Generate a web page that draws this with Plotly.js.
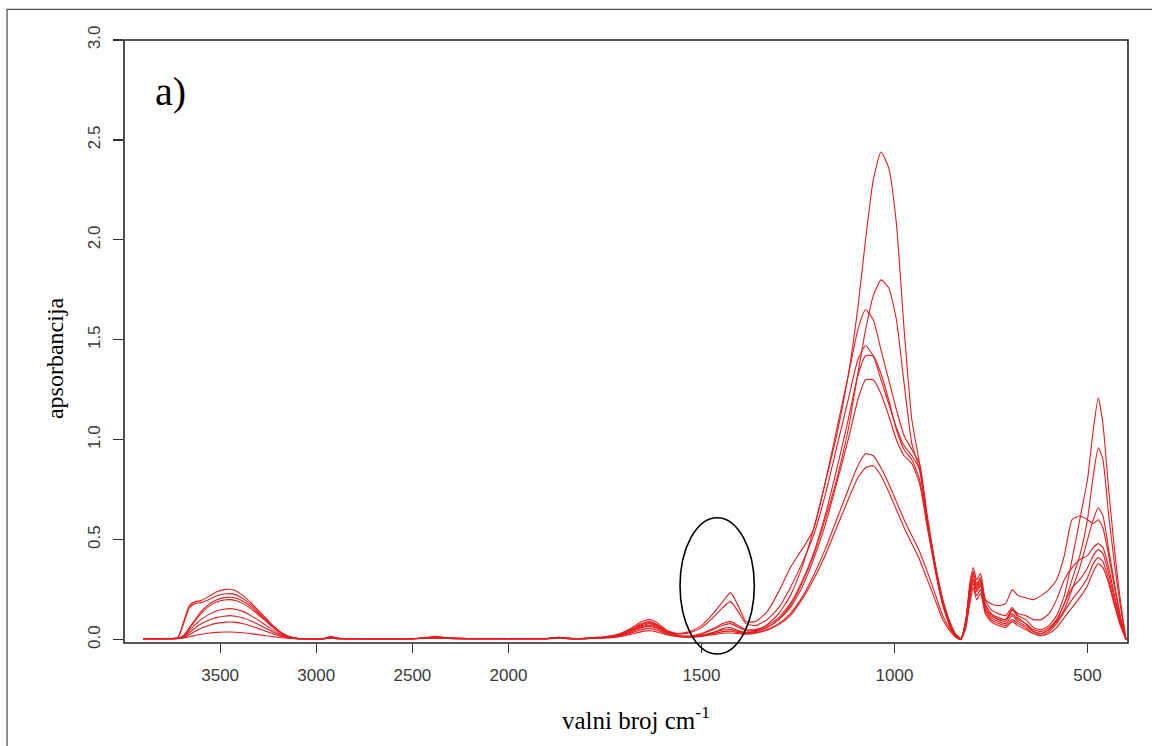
<!DOCTYPE html>
<html>
<head>
<meta charset="utf-8">
<script src="https://cdn.plot.ly/plotly-3.0.1.min.js"></script>
<style>html,body{margin:0;padding:0;background:#fff;}#chart{width:1152px;height:746px;}</style>
</head>
<body>
<div id="chart"></div>
<script>
// wavenumbers (cm-1)
const wavenumbers = [3900,3780,3720,3690,3660,3630,3600,3560,3520,3480,3450,3420,3380,3340,3300,3260,3220,3180,3140,3100,3050,2960,2925,2890,2800,2500,2420,2380,2340,2280,2150,2000,
1900,1870,1840,1800,1785,1760,1720,1680,1655,1635,1615,1590,1560,1530,1500,1470,1445,1425,1405,1385,1360,1330,1300,1270,1240,1210,1180,1150,1120,1095,1075,1055,1035,1015,995,975,955,935,915,895,875,855,840,828,815,805,796,787,777,765,750,730,712,695,680,660,640,620,600,580,560,540,520,500,485,472,460,445,430,415,400];

const spectrum1 = [0.005,0.005,0.01,0.09,0.17,0.19,0.195,0.215,0.238,0.25,0.252,0.245,0.22,0.185,0.145,0.105,0.065,0.035,0.015,0.006,0.004,0.006,0.016,0.008,0.004,0.005,0.012,0.016,0.012,0.008,0.004,0.005,
0.005,0.012,0.006,0.006,0.01,0.012,0.025,0.06,0.09,0.1,0.085,0.045,0.02,0.015,0.022,0.035,0.048,0.05,0.04,0.035,0.045,0.075,0.13,0.22,0.36,0.55,0.78,1.02,1.32,1.66,2.0,2.3,2.44,2.36,2.08,1.55,1.1,0.88,0.6,0.36,0.18,0.07,0.02,0.005,0.1,0.28,0.36,0.3,0.33,0.2,0.15,0.13,0.12,0.16,0.12,0.1,0.06,0.05,0.07,0.12,0.22,0.4,0.6,0.8,1.05,1.21,1.08,0.75,0.45,0.2,0.0];
const spectrum2 = [0.005,0.005,0.01,0.08,0.16,0.18,0.185,0.2,0.218,0.228,0.23,0.225,0.205,0.175,0.138,0.1,0.062,0.033,0.014,0.006,0.004,0.005,0.012,0.007,0.004,0.005,0.01,0.013,0.01,0.007,0.004,0.005,
0.005,0.01,0.005,0.006,0.009,0.01,0.02,0.05,0.075,0.085,0.07,0.04,0.018,0.014,0.02,0.035,0.055,0.06,0.045,0.035,0.04,0.06,0.1,0.17,0.28,0.42,0.6,0.8,1.05,1.33,1.55,1.72,1.8,1.76,1.6,1.28,0.98,0.85,0.6,0.38,0.2,0.08,0.025,0.005,0.1,0.26,0.34,0.28,0.31,0.18,0.13,0.11,0.1,0.13,0.1,0.08,0.05,0.04,0.06,0.1,0.18,0.3,0.42,0.6,0.82,0.96,0.9,0.62,0.38,0.17,0.0];
const spectrum3 = [0.005,0.005,0.006,0.02,0.06,0.1,0.14,0.175,0.198,0.21,0.212,0.208,0.192,0.165,0.13,0.095,0.06,0.032,0.014,0.006,0.004,0.005,0.01,0.006,0.004,0.005,0.009,0.012,0.009,0.006,0.004,0.005,
0.005,0.012,0.006,0.006,0.01,0.012,0.022,0.055,0.08,0.09,0.075,0.045,0.03,0.04,0.07,0.13,0.19,0.235,0.17,0.09,0.09,0.14,0.24,0.36,0.45,0.55,0.78,1.05,1.32,1.55,1.65,1.6,1.45,1.3,1.15,1.02,0.95,0.88,0.62,0.38,0.18,0.06,0.015,0.0,0.08,0.22,0.3,0.25,0.28,0.17,0.13,0.1,0.1,0.15,0.11,0.08,0.04,0.03,0.05,0.09,0.15,0.25,0.36,0.5,0.6,0.66,0.62,0.45,0.28,0.12,0.0];
const spectrum4 = [0.005,0.005,0.006,0.018,0.055,0.095,0.13,0.165,0.188,0.198,0.2,0.196,0.18,0.155,0.123,0.09,0.057,0.03,0.013,0.006,0.004,0.005,0.009,0.006,0.004,0.005,0.009,0.011,0.009,0.006,0.004,0.005,
0.005,0.01,0.005,0.006,0.009,0.01,0.02,0.05,0.07,0.08,0.065,0.04,0.028,0.035,0.06,0.11,0.16,0.19,0.14,0.08,0.07,0.1,0.16,0.26,0.38,0.52,0.72,0.96,1.2,1.4,1.47,1.42,1.3,1.18,1.06,0.97,0.92,0.85,0.6,0.38,0.2,0.08,0.02,0.005,0.1,0.25,0.33,0.27,0.3,0.2,0.18,0.17,0.18,0.25,0.22,0.21,0.2,0.22,0.25,0.3,0.42,0.6,0.62,0.6,0.58,0.6,0.56,0.42,0.26,0.11,0.0];
const spectrum5 = [0.005,0.005,0.006,0.015,0.045,0.075,0.1,0.125,0.143,0.152,0.155,0.152,0.14,0.12,0.096,0.07,0.045,0.024,0.011,0.005,0.004,0.005,0.008,0.005,0.004,0.005,0.008,0.01,0.008,0.006,0.004,0.005,
0.005,0.008,0.005,0.005,0.008,0.01,0.018,0.045,0.065,0.072,0.06,0.035,0.02,0.018,0.03,0.055,0.08,0.09,0.07,0.05,0.05,0.07,0.11,0.18,0.29,0.43,0.62,0.85,1.1,1.32,1.42,1.42,1.33,1.2,1.05,0.95,0.9,0.8,0.58,0.36,0.18,0.07,0.02,0.003,0.09,0.24,0.32,0.26,0.29,0.16,0.12,0.1,0.09,0.15,0.13,0.12,0.1,0.1,0.13,0.2,0.3,0.36,0.4,0.42,0.46,0.48,0.46,0.36,0.22,0.1,0.0];
const spectrum6 = [0.005,0.005,0.006,0.012,0.035,0.058,0.078,0.097,0.11,0.117,0.12,0.117,0.108,0.093,0.075,0.055,0.036,0.02,0.01,0.005,0.004,0.005,0.007,0.005,0.004,0.005,0.007,0.009,0.007,0.005,0.004,0.005,
0.005,0.008,0.005,0.005,0.007,0.009,0.016,0.04,0.06,0.066,0.055,0.032,0.018,0.016,0.027,0.05,0.072,0.08,0.062,0.045,0.045,0.062,0.1,0.16,0.26,0.4,0.57,0.78,1.0,1.2,1.3,1.3,1.23,1.12,1.0,0.92,0.88,0.78,0.56,0.35,0.17,0.06,0.015,0.002,0.08,0.22,0.3,0.24,0.27,0.15,0.11,0.09,0.08,0.12,0.09,0.07,0.04,0.03,0.05,0.1,0.18,0.26,0.3,0.36,0.42,0.45,0.43,0.33,0.2,0.09,0.0];
const spectrum7 = [0.005,0.005,0.006,0.01,0.025,0.042,0.057,0.071,0.081,0.086,0.088,0.086,0.079,0.068,0.055,0.041,0.027,0.016,0.008,0.005,0.004,0.005,0.006,0.005,0.004,0.005,0.006,0.008,0.006,0.005,0.004,0.005,
0.005,0.007,0.005,0.005,0.006,0.008,0.014,0.035,0.05,0.056,0.047,0.028,0.016,0.013,0.018,0.03,0.04,0.042,0.035,0.03,0.035,0.05,0.08,0.13,0.21,0.32,0.45,0.6,0.75,0.87,0.93,0.92,0.86,0.78,0.69,0.6,0.52,0.44,0.34,0.23,0.12,0.05,0.012,0.002,0.07,0.2,0.28,0.22,0.25,0.14,0.1,0.08,0.07,0.1,0.08,0.06,0.03,0.02,0.04,0.08,0.14,0.2,0.25,0.31,0.38,0.41,0.39,0.3,0.18,0.08,0.0];
const spectrum8 = [0.005,0.005,0.006,0.008,0.014,0.021,0.027,0.032,0.036,0.038,0.038,0.037,0.034,0.03,0.025,0.019,0.014,0.009,0.006,0.005,0.004,0.005,0.006,0.005,0.004,0.005,0.006,0.007,0.006,0.005,0.004,0.005,
0.005,0.006,0.005,0.005,0.006,0.007,0.012,0.028,0.04,0.045,0.038,0.024,0.014,0.012,0.016,0.025,0.032,0.033,0.03,0.027,0.032,0.047,0.075,0.12,0.2,0.3,0.42,0.56,0.7,0.81,0.86,0.87,0.82,0.74,0.65,0.56,0.48,0.4,0.3,0.2,0.1,0.04,0.01,0.0,0.06,0.18,0.26,0.2,0.23,0.13,0.09,0.07,0.06,0.09,0.07,0.05,0.03,0.02,0.03,0.06,0.11,0.16,0.21,0.27,0.34,0.38,0.36,0.28,0.17,0.07,0.0];

const series = [spectrum1, spectrum2, spectrum3, spectrum4, spectrum5, spectrum6, spectrum7, spectrum8];
const highTicks = [3500, 3000, 2500, 2000];
const lowTicks = [1500, 1000, 500];
const yTicks = [0.0, 0.5, 1.0, 1.5, 2.0, 2.5, 3.0];
const yTickLabels = ["0.0", "0.5", "1.0", "1.5", "2.0", "2.5", "3.0"];

const lineStyle = {color: 'rgb(232,28,28)', width: 1.1, shape: 'spline', smoothing: 0.5};
const traces = [];
series.forEach(function (s) {
  const hx = [], hy = [], lx = [], ly = [];
  for (let i = 0; i < wavenumbers.length; i++) {
    if (wavenumbers[i] >= 2000) { hx.push(wavenumbers[i]); hy.push(s[i]); }
    if (wavenumbers[i] <= 2000) { lx.push(wavenumbers[i]); ly.push(s[i]); }
  }
  traces.push({x: hx, y: hy, xaxis: 'x', yaxis: 'y', type: 'scatter', mode: 'lines', line: lineStyle, showlegend: false, hoverinfo: 'skip'});
  traces.push({x: lx, y: ly, xaxis: 'x2', yaxis: 'y', type: 'scatter', mode: 'lines', line: lineStyle, showlegend: false, hoverinfo: 'skip'});
});

const tickFont = {family: 'Liberation Sans, Arial, sans-serif', size: 17, color: '#3a3a3a'};
const split = 0.383;
const layout = {
  width: 1152, height: 746,
  margin: {l: 124, r: 24, t: 40, b: 103},
  paper_bgcolor: '#fff', plot_bgcolor: '#fff',
  showlegend: false,
  xaxis: {domain: [0, split], range: [4000, 2000], anchor: 'y', tickmode: 'array', tickvals: highTicks, ticktext: highTicks.map(String),
          ticks: 'outside', ticklen: 9, tickwidth: 1.2, tickcolor: '#333', ticklabelstandoff: 8, showgrid: false, zeroline: false, showline: false, tickfont: tickFont},
  xaxis2: {domain: [split, 1], range: [2000, 395], anchor: 'y', tickmode: 'array', tickvals: lowTicks, ticktext: lowTicks.map(String),
          ticks: 'outside', ticklen: 9, tickwidth: 1.2, tickcolor: '#333', ticklabelstandoff: 8, showgrid: false, zeroline: false, showline: false, tickfont: tickFont},
  yaxis: {domain: [0, 1], range: [-0.017, 3.0], anchor: 'x', tickmode: 'array', tickvals: yTicks, ticktext: yTickLabels, tickangle: -90,
          ticks: 'outside', ticklen: 10, tickwidth: 1.2, tickcolor: '#333', ticklabelstandoff: 6, showgrid: false, zeroline: false, showline: false, tickfont: tickFont},
  shapes: [
    {type: 'rect', xref: 'paper', yref: 'paper', x0: 0, x1: 1, y0: 0, y1: 1, line: {color: '#222', width: 1.6}, layer: 'above'},
    {type: 'rect', xref: 'paper', yref: 'paper', x0: -0.1165, x1: 1.06, y0: -0.3, y1: 1.0509, line: {color: '#555', width: 1.3}},
    {type: 'circle', xref: 'paper', yref: 'paper', x0: 0.5538, x1: 0.6278, y0: -0.0182, y1: 0.2078, line: {color: '#000', width: 1.6}, layer: 'above'}
  ],
  annotations: [
    {xref: 'paper', yref: 'paper', x: 0.029, y: 0.914, xanchor: 'left', yanchor: 'middle', showarrow: false,
     text: 'a)', font: {family: 'Liberation Serif, Times New Roman, serif', size: 40, color: '#000'}},
    {xref: 'paper', yref: 'paper', x: 0.51, y: -0.124, xanchor: 'center', yanchor: 'middle', showarrow: false,
     text: 'valni broj cm<sup>-1</sup>', font: {family: 'Liberation Serif, Times New Roman, serif', size: 25, color: '#000'}},
    {xref: 'paper', yref: 'paper', x: -0.0687, y: 0.4726, xanchor: 'center', yanchor: 'middle', showarrow: false, textangle: -90,
     text: 'apsorbancija', font: {family: 'Liberation Serif, Times New Roman, serif', size: 24, color: '#000'}}
  ]
};
Plotly.newPlot('chart', traces, layout, {displayModeBar: false, staticPlot: true});
</script>
</body>
</html>
